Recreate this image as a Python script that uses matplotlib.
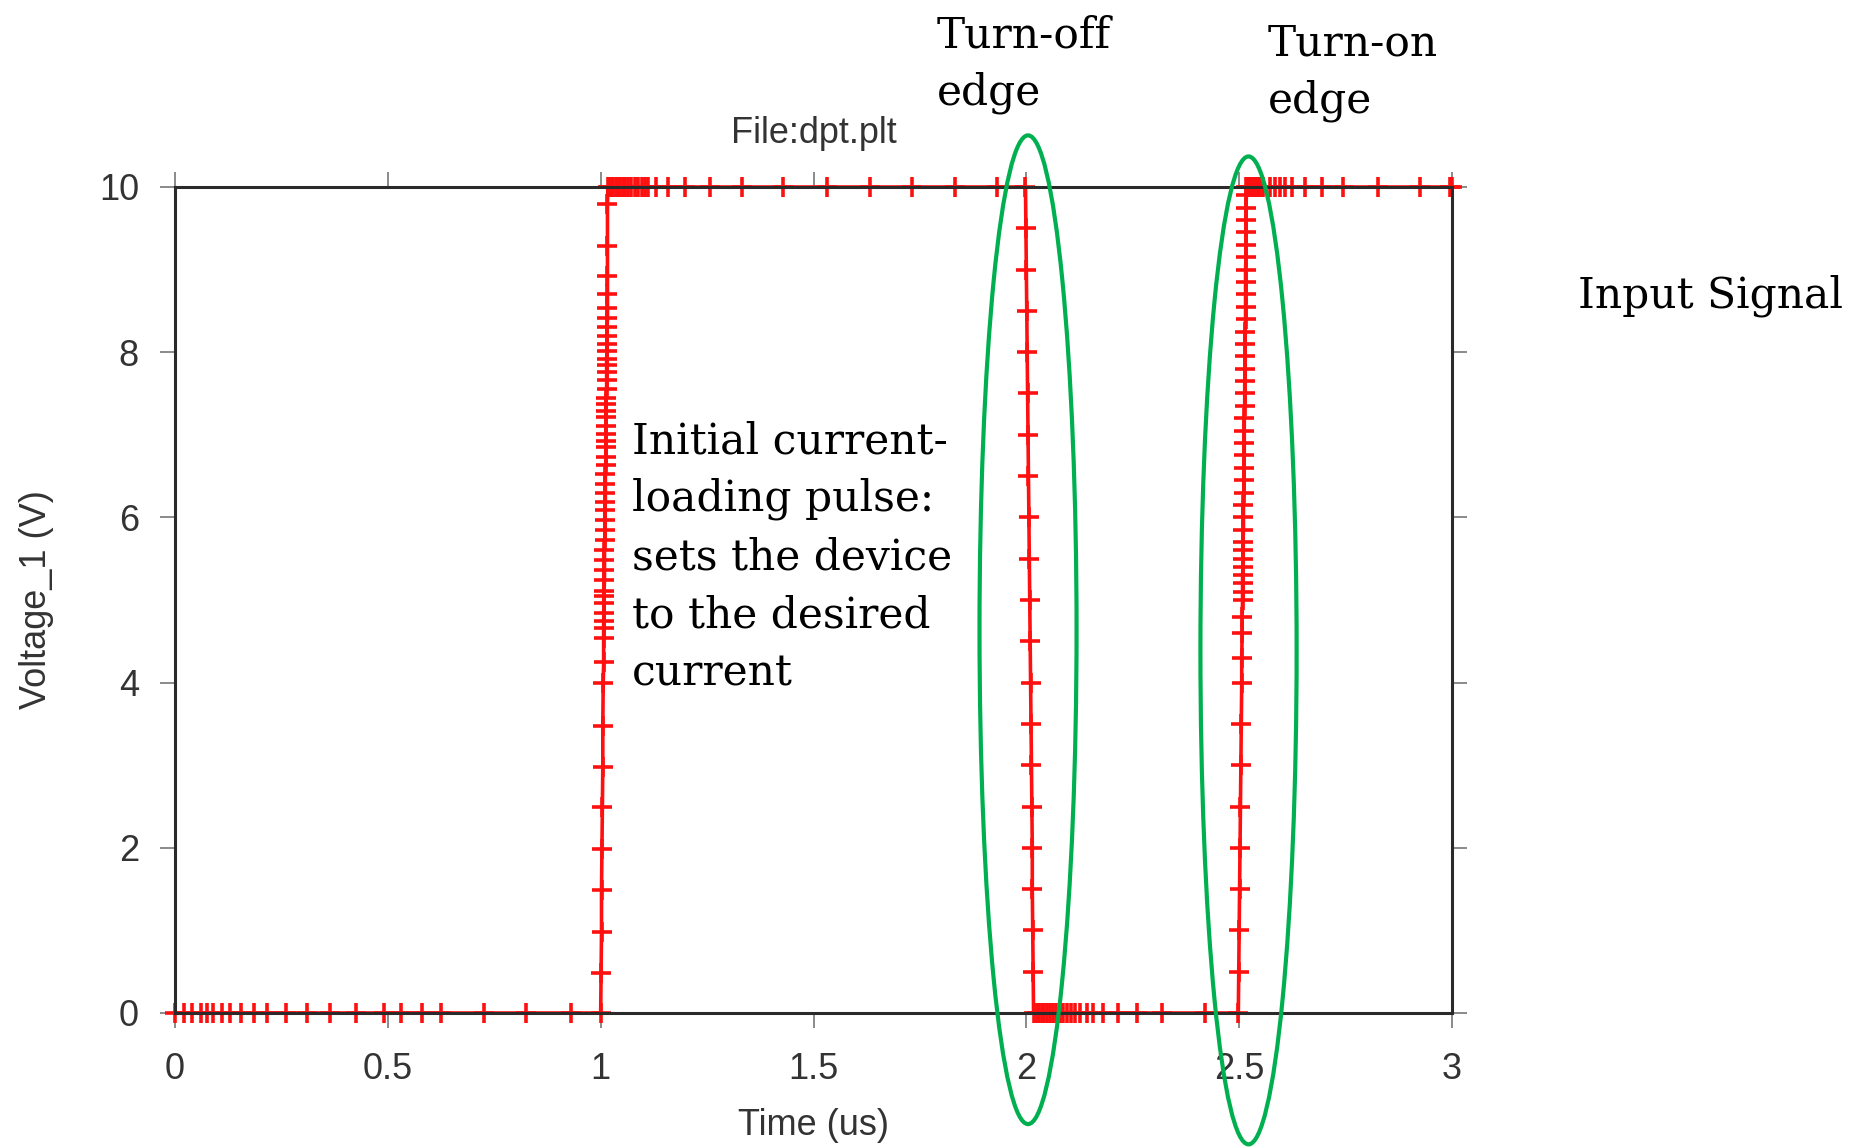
import matplotlib
matplotlib.use("Agg")
import matplotlib.pyplot as plt
from matplotlib.patches import Ellipse

# ---------------- data ----------------
low1_t = [0, 0.02, 0.04, 0.06, 0.075, 0.09, 0.11, 0.13, 0.155, 0.185, 0.215,
          0.26, 0.31, 0.365, 0.425, 0.49, 0.53, 0.58, 0.625, 0.725, 0.825, 0.93]
low1_v = [0] * len(low1_t)

rise1_t = [1.000, 1.001, 1.002, 1.002, 1.003, 1.004, 1.005, 1.005, 1.006, 1.007,
           1.007, 1.007, 1.007, 1.008, 1.008, 1.008, 1.008, 1.009, 1.009, 1.009,
           1.009, 1.010, 1.010, 1.010, 1.010, 1.011, 1.011, 1.011, 1.011, 1.012,
           1.012, 1.012, 1.012, 1.012, 1.013, 1.013, 1.013, 1.013, 1.013, 1.014,
           1.014, 1.014, 1.014, 1.014, 1.015, 1.015, 1.015, 1.015, 1.016, 1.016,
           1.016, 1.016, 1.016, 1.016]
rise1_v = [0, 0.48, 0.98, 1.49, 1.99, 2.50, 2.98, 3.48, 3.99, 4.25,
           4.54, 4.66, 4.74, 4.84, 4.96, 5.05, 5.11, 5.24, 5.36, 5.48,
           5.60, 5.73, 5.85, 5.97, 6.09, 6.19, 6.29, 6.41, 6.53, 6.63,
           6.73, 6.85, 6.93, 7.01, 7.11, 7.21, 7.29, 7.37, 7.45, 7.56,
           7.66, 7.76, 7.84, 7.92, 8.02, 8.10, 8.20, 8.30, 8.42, 8.54,
           8.70, 8.92, 9.29, 9.79]

high1_t = [1.017, 1.02, 1.025, 1.03, 1.035, 1.04, 1.046, 1.052, 1.058, 1.065,
           1.072, 1.08, 1.088, 1.096, 1.104, 1.112, 1.131, 1.159, 1.198, 1.257,
           1.331, 1.429, 1.531, 1.633, 1.731, 1.832, 1.930, 1.998]
high1_v = [10] * len(high1_t)

fall_t = [1.999, 2.000, 2.001, 2.002, 2.003, 2.004, 2.005, 2.006, 2.007, 2.008,
          2.009, 2.010, 2.011, 2.012, 2.013, 2.014, 2.014, 2.015, 2.016, 2.017]
fall_v = [9.5, 9, 8.5, 8, 7.5, 7, 6.5, 6, 5.5, 5,
          4.5, 4, 3.5, 3, 2.5, 2, 1.5, 1, 0.5, 0]

low2_t = [2.024, 2.03, 2.036, 2.042, 2.048, 2.055, 2.062, 2.07, 2.078, 2.086,
          2.095, 2.105, 2.115, 2.126, 2.142, 2.157, 2.181, 2.216, 2.259, 2.318,
          2.420]
low2_v = [0] * len(low2_t)

rise2_t = [2.498, 2.499, 2.500, 2.501, 2.502, 2.503, 2.504, 2.505, 2.506, 2.506,
           2.507, 2.507, 2.508, 2.508, 2.508, 2.508, 2.509, 2.509, 2.509, 2.509,
           2.510, 2.510, 2.510, 2.511, 2.511, 2.511, 2.512, 2.512, 2.512, 2.512,
           2.513, 2.513, 2.513, 2.514, 2.514, 2.514, 2.514, 2.515, 2.515, 2.515,
           2.515, 2.515, 2.516, 2.516, 2.516, 2.516, 2.516, 2.517]
rise2_v = [0, 0.5, 1, 1.5, 2, 2.5, 3, 3.5, 4, 4.3,
           4.6, 4.8, 5.0, 5.1, 5.2, 5.3, 5.4, 5.5, 5.6, 5.7,
           5.85, 6.0, 6.15, 6.3, 6.45, 6.6, 6.75, 6.9, 7.05, 7.2,
           7.35, 7.5, 7.65, 7.8, 7.95, 8.1, 8.25, 8.4, 8.55, 8.7,
           8.85, 9.0, 9.15, 9.3, 9.45, 9.6, 9.75, 9.9]

high2_t = [2.517, 2.52, 2.525, 2.53, 2.535, 2.54, 2.545, 2.55, 2.556, 2.572,
           2.584, 2.596, 2.608, 2.623, 2.655, 2.694, 2.745, 2.827, 2.925, 2.995,
           3.0]
high2_v = [10] * len(high2_t)

x_ticks = [0, 0.5, 1, 1.5, 2, 2.5, 3]
x_tick_labels = ["0", "0.5", "1", "1.5", "2", "2.5", "3"]
y_ticks = [0, 2, 4, 6, 8, 10]
y_tick_labels = ["0", "2", "4", "6", "8", "10"]

t_all = low1_t + rise1_t + high1_t + fall_t + low2_t + rise2_t + high2_t
v_all = low1_v + rise1_v + high1_v + fall_v + low2_v + rise2_v + high2_v

# ellipse highlights (data coords): centre t, centre V, width, height
ellipses = [(2.004, 4.64, 0.228, 11.97), (2.522, 4.39, 0.226, 11.96)]

# ---------------- figure ----------------
W, H = 1853, 1148
fig = plt.figure(figsize=(W / 100, H / 100), dpi=100)
ax = fig.add_axes([175 / W, 1 - 1013 / H, (1452 - 175) / W, (1013 - 187) / H])

sans = ["Liberation Sans", "DejaVu Sans"]
serif = ["DejaVu Serif"]
gray = "#333333"

ax.plot(t_all, v_all, color="#ff1010", lw=2.6, marker="+", ms=14, mew=2.6,
        clip_on=False, zorder=2)

ax.set_xlim(0, 3)
ax.set_ylim(0, 10)
ax.set_xticks(x_ticks)
ax.set_xticklabels(x_tick_labels)
ax.set_yticks(y_ticks)
ax.set_yticklabels(y_tick_labels)

for s in ax.spines.values():
    s.set_linewidth(2.2)
    s.set_color("#2a2a2a")
    s.set_zorder(3)

ax.tick_params(direction="out", length=11, width=1.4, color="#8a8a8a",
               top=True, right=True, labeltop=False, labelright=False,
               labelsize=26, labelcolor=gray)
ax.tick_params(axis="x", pad=17)
ax.tick_params(axis="y", pad=15)
for lab in ax.get_xticklabels() + ax.get_yticklabels():
    lab.set_family(sans)

ax.set_xlabel("Time (us)", fontsize=26, color=gray, family=sans, labelpad=15)
ax.set_ylabel("Voltage_1 (V)", fontsize=26, color=gray, family=sans, labelpad=32)
ax.set_title("File:dpt.plt", fontsize=26, color=gray, family=sans, pad=32)

for (cx, cy, w, h) in ellipses:
    ax.add_patch(Ellipse((cx, cy), w, h, fill=False, edgecolor="#00b050",
                         lw=3.0, clip_on=False, zorder=4))

def ftext(px, py, s):
    fig.text(px / W, 1 - py / H, s, fontsize=30.5, family=serif, color="black",
             ha="left", va="baseline")

ftext(937, 47, "Turn-off")
ftext(937, 104, "edge")
ftext(1268, 55, "Turn-on")
ftext(1268, 112, "edge")
ftext(1578, 307, "Input Signal")
for i, line in enumerate(["Initial current-", "loading pulse:", "sets the device",
                          "to the desired", "current"]):
    ftext(632, 453 + 58 * i, line)

fig.savefig("out.png", dpi=100)
